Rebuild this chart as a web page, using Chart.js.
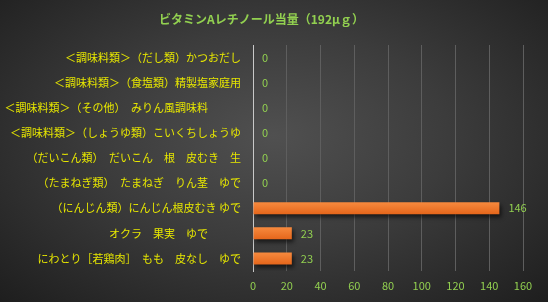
<!DOCTYPE html>
<html>
<head>
<meta charset="utf-8">
<script src="https://cdn.jsdelivr.net/npm/chart.js@4"></script>
<style>
  html, body { margin: 0; padding: 0; }
  body {
    width: 548px; height: 302px; overflow: hidden;
    background: radial-gradient(ellipse at 50% 45%, #505050 0%, #3c3c3c 45%, #1e1e1e 100%);
  }
  #wrap { position: relative; width: 548px; height: 302px; }
</style>
</head>
<body>
<div id="wrap"><canvas id="grafico" width="548" height="302"></canvas></div>
<script>
const titulo = 'ビタミンAレチノール当量（192μｇ）';
const categorias = [
  '＜調味料類＞（だし類）かつおだし',
  '＜調味料類＞（食塩類）精製塩家庭用',
  '＜調味料類＞（その他）　みりん風調味料　　　\u200b',
  '＜調味料類＞（しょうゆ類）こいくちしょうゆ',
  '（だいこん類）　だいこん　根　皮むき　生',
  '（たまねぎ類）　たまねぎ　りん茎　ゆで',
  '（にんじん類）にんじん根皮むき ゆで',
  'オクラ　果実　ゆで　　　\u200b',
  'にわとり［若鶏肉］　もも　皮なし　ゆで'
];
const valores = [0, 0, 0, 0, 0, 0, 146, 23, 23];
const ticksX = [0, 20, 40, 60, 80, 100, 120, 140, 160];

const verde = '#92d050';
const amarillo = '#e6e600';
const fuente = '"Noto Sans CJK JP", sans-serif';

// etiquetas de valor al final de cada barra
const etiquetas = {
  id: 'etiquetas',
  afterDatasetsDraw(chart) {
    const ctx = chart.ctx;
    const meta = chart.getDatasetMeta(0);
    ctx.save();
    ctx.font = '11px ' + fuente;
    ctx.fillStyle = verde;
    ctx.textBaseline = 'middle';
    meta.data.forEach((bar, i) => {
      ctx.fillText(String(valores[i]), bar.x + 9, bar.y);
    });
    ctx.restore();
  }
};

// sombra de las barras
const sombra = {
  id: 'sombra',
  beforeDatasetDraw(chart) {
    const ctx = chart.ctx;
    ctx.save();
    ctx.shadowColor = 'rgba(0,0,0,0.6)';
    ctx.shadowBlur = 4;
    ctx.shadowOffsetX = 2;
    ctx.shadowOffsetY = 3;
  },
  afterDatasetDraw(chart) {
    chart.ctx.restore();
  }
};

function colorBarra(context) {
  const chart = context.chart;
  const y = chart.scales.y;
  if (!y || !chart.chartArea) return '#f27a2b';
  const c = y.getPixelForValue(context.dataIndex);
  const g = chart.ctx.createLinearGradient(0, c - 6, 0, c + 6);
  g.addColorStop(0, '#f78a3e');
  g.addColorStop(1, '#e5661b');
  return g;
}

const ctx = document.getElementById('grafico').getContext('2d');
const chart = new Chart(ctx, {
  type: 'bar',
  data: {
    labels: categorias,
    datasets: [{
      data: valores,
      backgroundColor: colorBarra,
      borderWidth: 0,
      barPercentage: 0.48,
      categoryPercentage: 1
    }]
  },
  options: {
    indexAxis: 'y',
    responsive: false,
    animation: false,
    devicePixelRatio: 1,
    layout: { padding: { top: 0, right: 25, bottom: 0, left: 0 } },
    plugins: {
      legend: { display: false },
      tooltip: { enabled: false },
      title: {
        display: true,
        text: titulo,
        color: verde,
        font: { family: fuente, size: 12, weight: 'bold' },
        padding: { top: 12, bottom: 18.6 }
      }
    },
    scales: {
      x: {
        min: 0,
        max: 160,
        afterBuildTicks(axis) { axis.ticks = ticksX.map(v => ({ value: v })); },
        afterFit(axis) { axis.height = 31; },
        grid: { color: '#5e5e5e', drawTicks: false },
        border: { display: false },
        ticks: { color: verde, font: { family: fuente, size: 11 }, padding: 8, maxRotation: 0 }
      },
      y: {
        afterFit(axis) { axis.width = 253; },
        grid: { display: false },
        border: { display: true, color: '#c8c8c8', width: 1 },
        ticks: { color: amarillo, font: { family: fuente, size: 11 }, padding: 4, autoSkip: false }
      }
    }
  },
  plugins: [sombra, etiquetas]
});
</script>
</body>
</html>
